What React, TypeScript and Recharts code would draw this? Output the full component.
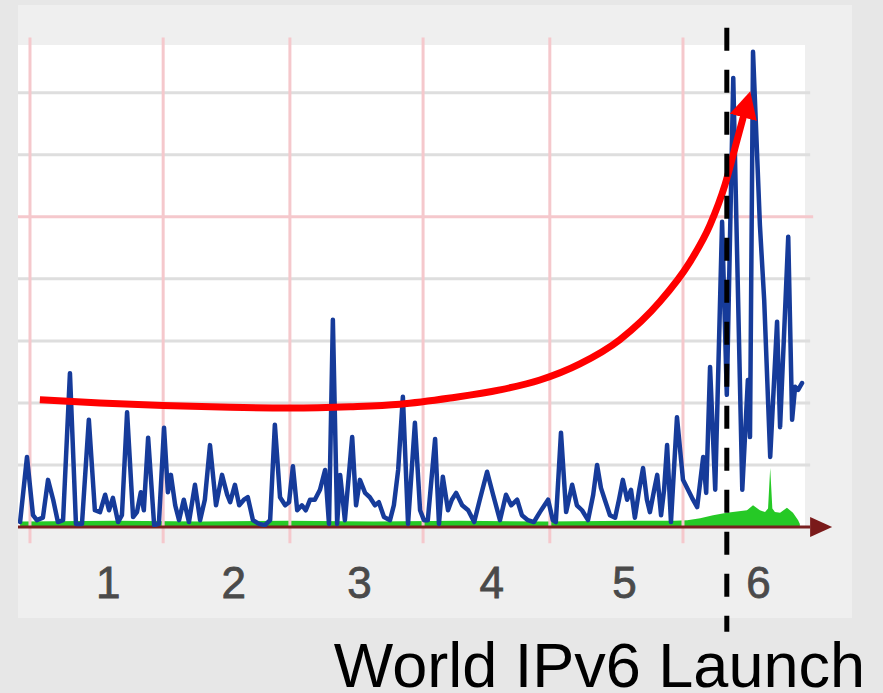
import React from 'react';
import { ComposedChart, Line, Area, XAxis, YAxis, CartesianGrid, ReferenceLine } from 'recharts';

// ---- data (x = day of period, y = traffic units) ----
const blueDays = [
  -2.3, -0.7, 0.7, 1.6, 3.0, 4.2, 5.4, 6.5, 7.7, 9.3, 10.7, 12.1, 13.7, 15.1, 16.3, 17.5, 18.4, 19.3, 20.5, 21.4,
  22.6, 24.0, 24.9, 25.8, 26.5, 27.5, 28.9, 30.0, 31.2, 32.1, 32.8, 33.8, 34.7, 35.8, 37.0, 38.4, 39.6, 40.7, 41.9, 43.3,
  44.7, 45.9, 46.6, 47.7, 48.7, 49.8, 50.7, 51.9, 53.3, 54.7, 55.9, 57.0, 58.2, 59.4, 60.3, 61.2, 62.2, 63.3, 64.2, 65.2,
  66.3, 67.5, 68.7, 69.6, 70.5, 71.5, 72.2, 73.3, 75.0, 75.9, 76.8, 78.0, 79.1, 80.3, 81.2, 82.4, 83.8, 84.7, 85.7, 86.8,
  88.0, 89.6, 90.8, 91.7, 92.6, 94.3, 95.2, 96.1, 97.3, 98.2, 99.2, 100.6, 102.0, 103.4, 104.7, 106.4, 107.8, 109.4, 110.8, 112.0,
  113.4, 114.5, 115.9, 117.3, 118.7, 120.6, 121.7, 122.4, 123.6, 124.8, 126.2, 127.3, 128.5, 129.9, 131.1, 132.0, 132.9, 133.8, 135.0, 136.2,
  137.1, 138.0, 139.0, 139.9, 140.8, 141.8, 142.7, 143.6, 144.3, 145.3, 146.0, 146.9, 147.6, 148.3, 149.2, 150.6, 152.0, 154.1, 155.3, 156.7,
  157.4, 158.3, 159.5, 161.1, 162.2, 163.7, 165.8, 167.1, 167.6, 168.3, 169.9, 170.9, 172.3, 173.9, 174.6, 176.5, 177.4, 178.1, 178.8, 179.7,
];
const blueValues = [
  0.08, 1.13, 0.19, 0.11, 0.15, 0.76, 0.44, 0.08, 0.11, 2.48, 0.05, 0.05, 1.73, 0.27, 0.24, 0.52, 0.27, 0.47, 0.08, 0.19,
  1.85, 0.16, 0.24, 0.56, 0.27, 1.44, 0.03, 0.05, 1.60, 0.56, 0.84, 0.35, 0.11, 0.44, 0.08, 0.68, 0.11, 0.44, 1.32, 0.35,
  0.84, 0.52, 0.40, 0.68, 0.35, 0.44, 0.48, 0.11, 0.05, 0.03, 0.11, 1.65, 0.48, 0.35, 0.40, 0.98, 0.27, 0.35, 0.27, 0.44,
  0.44, 0.60, 0.92, 0.05, 3.34, 0.05, 0.84, 0.11, 1.45, 0.35, 0.76, 0.55, 0.48, 0.35, 0.40, 0.16, 0.11, 0.35, 0.92, 2.10,
  0.05, 1.68, 0.27, 0.11, 0.11, 1.42, 0.05, 0.81, 0.27, 0.44, 0.55, 0.35, 0.27, 0.08, 0.44, 0.89, 0.52, 0.11, 0.52, 0.35,
  0.44, 0.19, 0.11, 0.08, 0.24, 0.44, 0.11, 0.08, 1.52, 0.24, 0.68, 0.35, 0.27, 0.11, 0.52, 1.00, 0.63, 0.44, 0.19, 0.15,
  0.44, 0.76, 0.44, 0.60, 0.15, 0.60, 0.95, 0.44, 0.24, 0.60, 0.84, 0.19, 0.60, 1.32, 0.08, 1.77, 0.76, 0.47, 0.32, 1.13,
  0.55, 2.58, 0.60, 4.92, 2.13, 7.24, 0.60, 2.37, 1.45, 7.66, 4.87, 3.66, 1.13, 3.31, 1.61, 4.68, 1.73, 2.26, 2.21, 2.32,
];

const greenDays = [
  -2.3, 20, 40, 60, 80, 100, 120, 140, 150, 153, 156.0, 159.0, 162.2, 166.9, 168.3, 169.9, 171.1, 171.8, 172.3, 172.8,
  173.4, 174.6, 176.2, 177.6, 178.8, 179.2,
];
const greenValues = [
  0.09, 0.1, 0.09, 0.1, 0.09, 0.1, 0.09, 0.1, 0.1, 0.11, 0.14, 0.19, 0.23, 0.27, 0.35, 0.27, 0.24, 0.3, 0.95, 0.3,
  0.24, 0.23, 0.31, 0.23, 0.11, 0.05,
];

const trendDays = [2.3, 16.3, 31.0, 46.6, 60.5, 74.5, 86.1, 97.8, 109.4, 118.7, 128.0, 137.3, 146.6, 153.6, 158.3, 161.8, 164.6, 166.2];
const trendValues = [2.05, 2.0, 1.96, 1.93, 1.92, 1.94, 1.98, 2.08, 2.21, 2.37, 2.63, 3.02, 3.63, 4.27, 4.87, 5.52, 6.24, 6.65];

const monthStartDays = [0, 31, 60.5, 91.5, 121, 152];
const grayGridValues = [1, 2, 3, 4, 6, 7];
const redGridValues = [5];
const tickDays = [18.2, 47.4, 76.7, 107.5, 138.4, 169.6];
const tickLabels = ['1', '2', '3', '4', '5', '6'];
const launchDay = 162.2;
const launchLabel = 'World IPv6 Launch';

const xDomain: [number, number] = [-2.79, 180.4];
const yDomain: [number, number] = [0, 7.77];
const gridRightDay = 181.6;
const axisEndDay = 181.6;
const vGridSpan: [number, number] = [-0.26, 7.89];
const launchSpan: [number, number] = [8.05, -1.69];

const blueData = blueDays.map((d, i) => ({ d, v: blueValues[i] }));
const greenData = greenDays.map((d, i) => ({ d, v: greenValues[i] }));
const trendData = trendDays.map((d, i) => ({ d, v: trendValues[i] }));

const FONT = '"Liberation Sans", Arial, Helvetica, sans-serif';

const Tick = (props: any) => {
  const { x, y, payload } = props;
  const idx = tickDays.indexOf(payload.value);
  return (
    <text x={x} y={y + 71} textAnchor="middle" fontSize={44} fontFamily={FONT} fill="#4a4a4a" stroke="#4a4a4a" strokeWidth={0.8}>
      {tickLabels[idx]}
    </text>
  );
};

export default function App() {
  return (
    <div style={{ position: 'absolute', left: 0, top: 0, width: 883, height: 693, background: '#e7e7e7', overflow: 'hidden' }}>
      <div style={{ position: 'absolute', left: 18, top: 5, width: 834, height: 613, background: '#efefef' }} />
      <svg width={0} height={0} style={{ position: 'absolute', left: 0, top: 0 }}>
        <defs>
          <marker id="redArrow" markerUnits="userSpaceOnUse" markerWidth={30} markerHeight={30} viewBox="0 0 30 30" refX={3} refY={14} orient="auto">
            <path d="M0,0 L27,14 L0,28 Z" fill="#ff0000" />
          </marker>
          <marker id="axisArrow" markerUnits="userSpaceOnUse" markerWidth={24} markerHeight={22} viewBox="0 0 24 22" refX={0} refY={11} orient="auto">
            <path d="M0,1 L22,11 L0,21 Z" fill="#7a1a1a" />
          </marker>
        </defs>
      </svg>
      <div style={{ position: 'absolute', left: 0, top: 0 }}>
        <ComposedChart width={883} height={693} margin={{ top: 45, right: 78, bottom: 126, left: 18 }}>
          <CartesianGrid fill="#ffffff" stroke="transparent" horizontal={false} vertical={false} />
          <XAxis
            type="number"
            dataKey="d"
            domain={xDomain}
            allowDataOverflow
            ticks={tickDays}
            interval={0}
            axisLine={false}
            tickLine={false}
            tickSize={0}
            tickMargin={0}
            height={40}
            tick={<Tick />}
          />
          <YAxis hide type="number" domain={yDomain} allowDataOverflow />
          {grayGridValues.map((g) => (
            <ReferenceLine key={'g' + g} ifOverflow="visible" segment={[{ x: xDomain[0], y: g }, { x: gridRightDay, y: g }]} stroke="#dedede" strokeWidth={3} />
          ))}
          {redGridValues.map((g) => (
            <ReferenceLine key={'r' + g} ifOverflow="visible" segment={[{ x: xDomain[0], y: g }, { x: gridRightDay + 0.7, y: g }]} stroke="#f5c8cc" strokeWidth={3} />
          ))}
          {monthStartDays.map((m) => (
            <ReferenceLine key={'m' + m} ifOverflow="visible" segment={[{ x: m, y: vGridSpan[0] }, { x: m, y: vGridSpan[1] }]} stroke="#f5c8cc" strokeWidth={3} />
          ))}
          <Area data={greenData} dataKey="v" type="linear" stroke="none" fill="#26c926" fillOpacity={1} isAnimationActive={false} />
          <ReferenceLine ifOverflow="visible" segment={[{ x: xDomain[0], y: 0 }, { x: axisEndDay, y: 0 }]} stroke="#782020" strokeWidth={3} markerEnd="url(#axisArrow)" />
          <Line data={blueData} dataKey="v" type="linear" stroke="#163b9a" strokeWidth={4.5} strokeLinejoin="round" strokeLinecap="round" dot={false} activeDot={false} isAnimationActive={false} />
          <Line data={trendData} dataKey="v" type="monotone" stroke="#ff0000" strokeWidth={7} dot={false} activeDot={false} markerEnd="url(#redArrow)" isAnimationActive={false} />
          <ReferenceLine ifOverflow="visible" segment={[{ x: launchDay, y: launchSpan[0] }, { x: launchDay, y: launchSpan[1] }]} stroke="#000000" strokeWidth={5} strokeDasharray="23 19" />
        </ComposedChart>
      </div>
      <svg width={883} height={693} style={{ position: 'absolute', left: 0, top: 0, pointerEvents: 'none' }}>
        <text x={865} y={687} textAnchor="end" fontSize={63} fontFamily={FONT} fill="#000000">
          {launchLabel}
        </text>
      </svg>
    </div>
  );
}
